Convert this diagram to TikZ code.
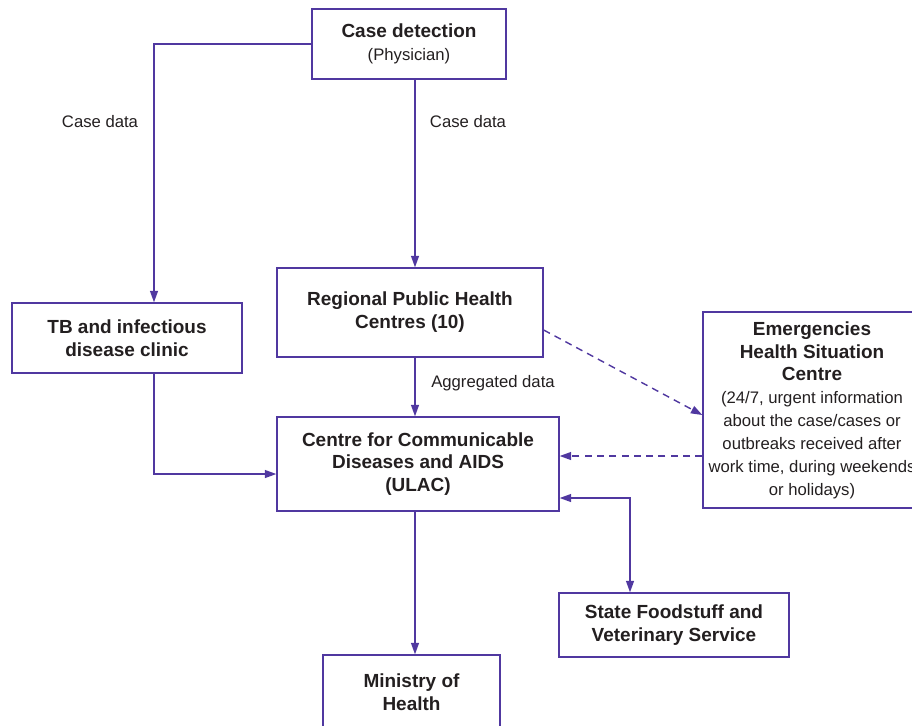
\documentclass[tikz,border=0pt]{standalone}
\usepackage{fontspec}
\setmainfont{Liberation Sans}
\usepackage{tikz}
\usetikzlibrary{arrows.meta, positioning, calc}
\definecolor{flowline}{RGB}{80,56,160}
\definecolor{flowtext}{RGB}{35,31,32}
\newcommand{\nm}{\fontsize{9.5}{11.4}\selectfont\mdseries}
\newcommand{\hd}{\fontsize{10.8}{13}\selectfont\bfseries}
\tikzset{
  box/.style={draw=flowline, line width=0.8pt, align=center, inner sep=0pt,
    text=flowtext, font=\hd},
  lbl/.style={text=flowtext, font=\nm, inner sep=0pt},
  tip/.tip={Triangle[length=6.5pt,width=4.5pt]},
  arr/.style={draw=flowline, line width=0.8pt, -tip},
  darr/.style={arr, dash pattern=on 4pt off 3pt},
}
\begin{document}
\begin{tikzpicture}[x=0.02cm, y=-0.02cm]
  \useasboundingbox (0,0) rectangle (912,725);
  % boxes, centre at (x,y) in pixels
  \node[box, minimum width=3.88cm, minimum height=1.4cm] (case) at (409,44)
    {Case detection\\ \nm (Physician)};
  \node[box, minimum width=4.6cm, minimum height=1.4cm] (tb) at (127,338)
    {TB and infectious\\disease clinic};
  \node[box, minimum width=5.32cm, minimum height=1.78cm] (rphc) at (410,312.5)
    {Regional Public Health\\Centres (10)};
  \node[box, minimum width=5.64cm, minimum height=1.88cm] (ulac) at (418,464)
    {Centre for Communicable\\Diseases and AIDS\\(ULAC)};
  \node[box, minimum width=4.36cm, minimum height=3.92cm] (emer) at (812,410)
    {Emergencies\\Health Situation\\Centre\\ \nm (24/7, urgent information\\ \nm about the case/cases or\\ \nm outbreaks received after\\ \nm work time, during weekends\\ \nm or holidays)};
  \node[box, minimum width=4.6cm, minimum height=1.28cm] (food) at (674,625)
    {State Foodstuff and\\Veterinary Service};
  \node[box, minimum width=3.54cm, minimum height=1.48cm] (moh) at (411.5,692)
    {Ministry of\\Health};

  % labels
  \node[lbl] (casedataL) at (100,122) {Case data};
  \node[lbl] (casedataR) at (468,122) {Case data};
  \node[lbl] (aggdata) at (493,383) {Aggregated data};

  % connectors
  \coordinate (spine) at (415,0);
  \coordinate (tbx) at (154,474);
  \coordinate (foodx) at (630,498);
  \draw[arr] (case.west) -| (tb.north -| tbx);
  \draw[arr] (case.south -| spine) -- (rphc.north -| spine);
  \draw[arr] (rphc.south -| spine) -- (ulac.north -| spine);
  \draw[arr] (ulac.south -| spine) -- (moh.north -| spine);
  \draw[arr] (tb.south -| tbx) |- (ulac.west |- tbx);
  \draw[darr] (rphc.east |- 0,330) -- (emer.west |- 0,415);
  \draw[darr] (emer.west |- 0,456) -- (ulac.east |- 0,456);
  \draw[arr, tip-tip] (ulac.east |- foodx) -| (food.north -| foodx);
\end{tikzpicture}
\end{document}
